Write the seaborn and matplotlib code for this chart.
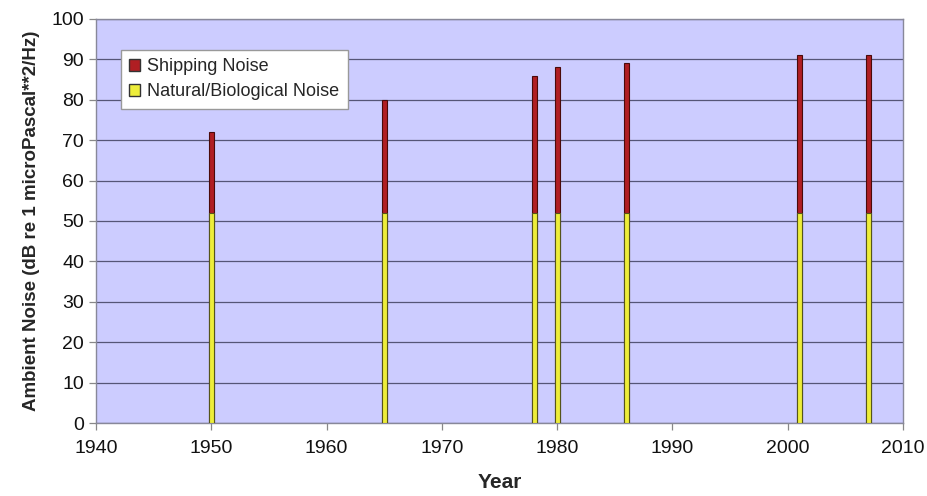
import matplotlib
matplotlib.use("Agg")
import matplotlib.pyplot as plt
import seaborn as sns
import pandas as pd
from matplotlib.patches import Patch

years = [1950, 1965, 1978, 1980, 1986, 2001, 2007]
natural = [52, 52, 52, 52, 52, 52, 52]
total = [72, 80, 86, 88, 89, 91, 91]
series_labels = ["Shipping Noise", "Natural/Biological Noise"]

df = pd.DataFrame({"year": years, "natural": natural, "total": total})

sns.set_style("white")
plt.rcParams['font.family'] = ['Liberation Sans', 'DejaVu Sans']

fig = plt.figure(figsize=(9.28, 4.96), dpi=100)
ax = fig.add_axes([96/928, 1 - 423/496, (903-96)/928, (423-19)/496])
ax.set_facecolor("#CCCCFF")

ship_col = "#B01E23"
nat_col = "#EDED3A"

sns.barplot(data=df, x="year", y="total", native_scale=True, width=0.21,
            color=ship_col, saturation=1, edgecolor="#4a0a0a", linewidth=0.8, ax=ax, zorder=3)
sns.barplot(data=df, x="year", y="natural", native_scale=True, width=0.21,
            color=nat_col, saturation=1, edgecolor="#55551a", linewidth=0.8, ax=ax, zorder=4)

ax.set_xlim(1940, 2010)
ax.set_ylim(0, 100)
ax.set_xticks(range(1940, 2011, 10))
ax.set_yticks(range(0, 101, 10))
ax.yaxis.grid(True, color="#555577", linewidth=0.9)
ax.set_axisbelow(True)
for s in ax.spines.values():
    s.set_color("#888899")
    s.set_linewidth(1.0)
ax.tick_params(axis="both", labelsize=14, colors="#111111", length=5, width=0.9, direction="out",
               left=True, bottom=True)
ax.tick_params(axis="both", color="#888888")
ax.tick_params(axis="x", pad=7)
ax.set_xlabel("Year", fontsize=15, fontweight="bold", labelpad=12)
ax.set_ylabel("Ambient Noise (dB re 1 microPascal**2/Hz)", fontsize=13.5, fontweight="bold", labelpad=8)

handles = [Patch(facecolor=ship_col, edgecolor="#333333", label=series_labels[0]),
           Patch(facecolor=nat_col, edgecolor="#333333", label=series_labels[1])]
leg = ax.legend(handles=handles, loc="upper left", bbox_to_anchor=(0.02, 0.945),
                fontsize=13, frameon=True, fancybox=False, handlelength=0.6, handleheight=0.6,
                handletextpad=0.4, borderpad=0.45, labelspacing=0.45)
leg.get_frame().set_edgecolor("#999999")
leg.get_frame().set_facecolor("white")
leg.get_frame().set_alpha(1)

fig.savefig("out.png", dpi=100)
